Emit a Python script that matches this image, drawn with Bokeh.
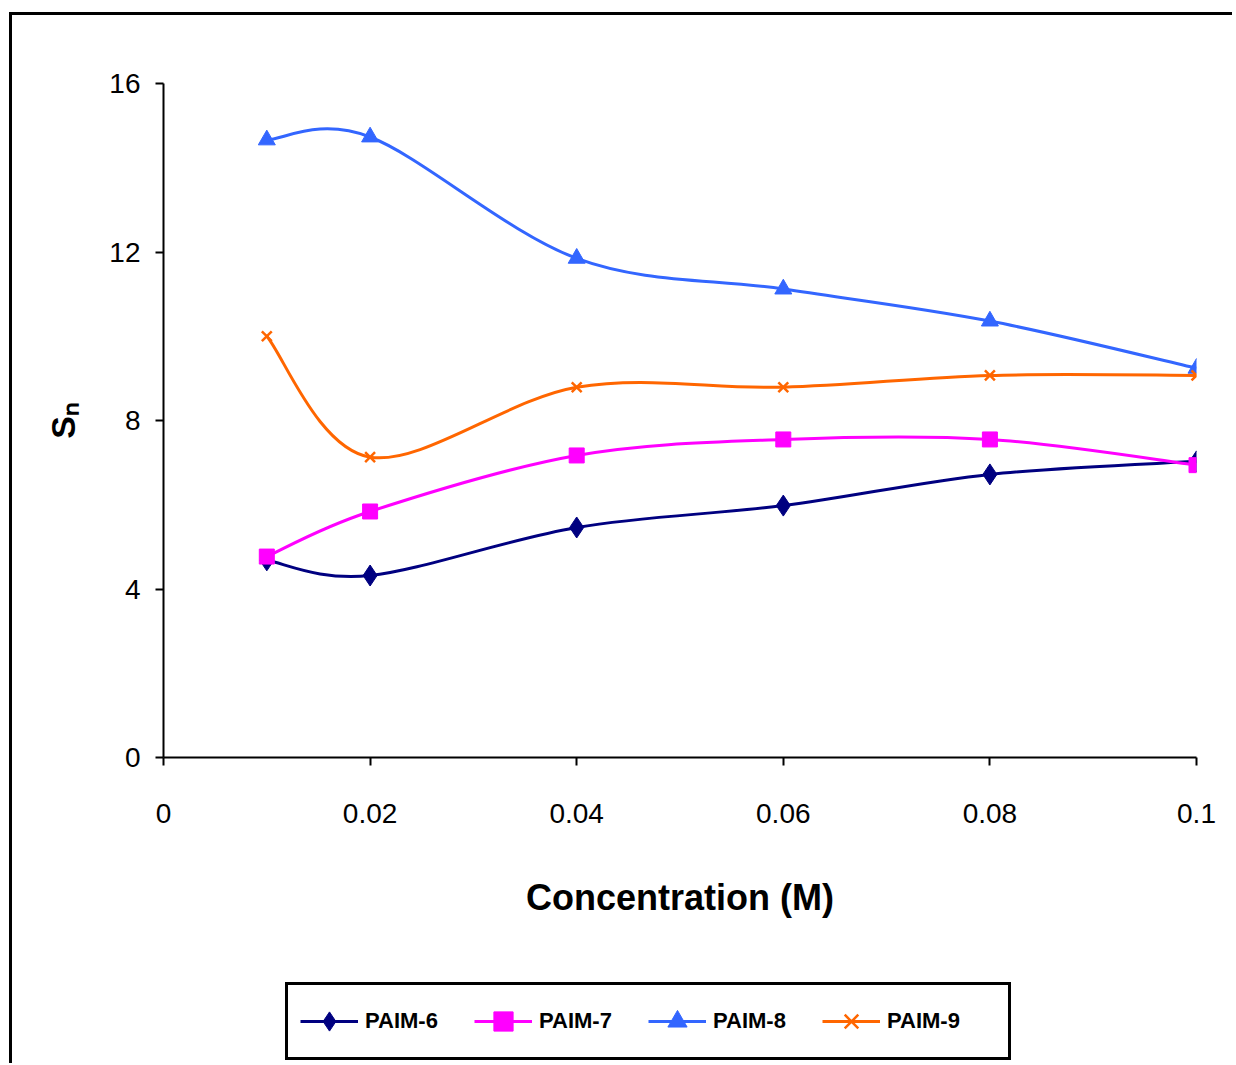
from bokeh.plotting import figure
from bokeh.layouts import column
from bokeh.models import (Range1d, FixedTicker, CustomJSTickFormatter, Legend,
                          LegendItem, ColumnDataSource)
from bokeh.embed import file_html
from bokeh.resources import INLINE

# ---- data ----
concentration = [0.01, 0.02, 0.04, 0.06, 0.08, 0.1]
paim6 = [4.68, 4.32, 5.46, 5.98, 6.72, 7.03]
paim7 = [4.77, 5.84, 7.17, 7.55, 7.55, 6.94]
paim8 = [14.66, 14.73, 11.85, 11.12, 10.36, 9.24]
paim9 = [10.0, 7.13, 8.79, 8.79, 9.07, 9.07]
series_names = ["PAIM-6", "PAIM-7", "PAIM-8", "PAIM-9"]
x_ticks = [0, 0.02, 0.04, 0.06, 0.08, 0.1]
y_ticks = [0, 4, 8, 12, 16]
x_title = "Concentration (M)"
y_title = "S\u2099"

# ---------------- main chart ----------------
p = figure(frame_width=1033, frame_height=674, output_backend="svg",
           toolbar_location=None,
           x_range=Range1d(0, 0.1), y_range=Range1d(0, 16),
           min_border_left=151, min_border_right=36,
           min_border_top=68, min_border_bottom=218)
p.outline_line_color = None
p.xgrid.visible = False
p.ygrid.visible = False
p.background_fill_color = "white"
p.border_fill_color = "white"

fmt = CustomJSTickFormatter(code="return String(Math.round(tick*100)/100);")
for ax in (p.xaxis[0], p.yaxis[0]):
    ax.formatter = fmt
    ax.axis_line_width = 2
    ax.axis_line_color = "black"
    ax.major_tick_line_width = 2
    ax.major_tick_line_color = "black"
    ax.major_tick_out = 8
    ax.major_tick_in = 0
    ax.minor_tick_line_color = None
    ax.major_label_text_font = "Liberation Sans"
    ax.major_label_text_font_size = "28px"
    ax.major_label_text_color = "black"
    ax.axis_label_text_color = "black"
    ax.axis_label_text_font_style = "bold"

p.xaxis[0].ticker = FixedTicker(ticks=x_ticks)
p.yaxis[0].ticker = FixedTicker(ticks=y_ticks)
p.xaxis[0].major_label_standoff = 38
p.yaxis[0].major_label_standoff = 15
p.xaxis[0].axis_label = x_title
p.xaxis[0].axis_label_text_font = "Liberation Sans"
p.xaxis[0].axis_label_text_font_size = "36px"
p.xaxis[0].axis_label_standoff = 51
p.yaxis[0].axis_label = y_title
p.yaxis[0].axis_label_text_font = "Liberation Sans"
p.yaxis[0].axis_label_text_font_size = "34px"
p.yaxis[0].axis_label_standoff = 24


def smooth_segments(xs, ys):
    """Excel-style smoothed line: cubic Bezier control points from neighbours."""
    n = len(xs)
    d = {k: [] for k in ("x0", "y0", "x1", "y1", "cx0", "cy0", "cx1", "cy1")}
    for i in range(n - 1):
        a = i - 1 if i > 0 else i
        b = i + 2 if i + 2 < n else i + 1
        d["x0"].append(xs[i]); d["y0"].append(ys[i])
        d["x1"].append(xs[i + 1]); d["y1"].append(ys[i + 1])
        d["cx0"].append(xs[i] + (xs[i + 1] - xs[a]) / 6.0)
        d["cy0"].append(ys[i] + (ys[i + 1] - ys[a]) / 6.0)
        d["cx1"].append(xs[i + 1] - (xs[b] - xs[i]) / 6.0)
        d["cy1"].append(ys[i + 1] - (ys[b] - ys[i]) / 6.0)
    return ColumnDataSource(d)


styles = [
    (paim6, "#000080", "diamond", 21),
    (paim7, "#FF00FF", "square", 15),
    (paim8, "#3366FF", "triangle", 17),
    (paim9, "#FF6600", "x", 14),
]


def draw_series(fig, vals, color, marker, size):
    src = smooth_segments(concentration, vals)
    lr = fig.bezier(x0="x0", y0="y0", x1="x1", y1="y1", cx0="cx0", cy0="cy0",
                    cx1="cx1", cy1="cy1", source=src, line_color=color, line_width=3)
    if marker == "x":
        sr = fig.scatter(concentration, vals, marker=marker, size=size,
                         line_color=color, line_width=2.5)
    else:
        sr = fig.scatter(concentration, vals, marker=marker, size=size,
                         fill_color=color, line_color=color, line_width=1)
    return lr, sr


for vals, color, marker, size in styles:
    draw_series(p, vals, color, marker, size)

# ---------------- legend strip (below the chart) ----------------
# same series drawn out of this strip's view; only their legend entries show
leg_fig = figure(width=1220, height=88, output_backend="svg", toolbar_location=None,
                 x_range=Range1d(0, 0.1), y_range=Range1d(100, 101),
                 x_axis_type=None, y_axis_type=None, min_border=0)
leg_fig.outline_line_color = None
leg_fig.background_fill_color = "white"
leg_fig.border_fill_color = "white"

items = []
for name, (vals, color, marker, size) in zip(series_names, styles):
    lr, sr = draw_series(leg_fig, vals, color, marker, size)
    items.append(LegendItem(label=name, renderers=[lr, sr]))

legend = Legend(items=items, orientation="horizontal", location=(122, 3),
                padding=12, margin=0, spacing=0, glyph_width=58, glyph_height=48,
                label_standoff=7, label_width=109,
                label_text_font="Liberation Sans", label_text_font_size="22px",
                label_text_font_style="bold", label_text_color="black",
                border_line_color="black", border_line_width=3, border_line_alpha=1,
                background_fill_color="white", background_fill_alpha=1)
leg_fig.add_layout(legend, "center")

page = column(p, leg_fig, spacing=0)
page.styles = {"margin-left": "9px", "margin-top": "12px",
               "border-left": "3px solid black", "border-top": "3px solid black"}

open("out.html", "w").write(file_html(page, INLINE))
